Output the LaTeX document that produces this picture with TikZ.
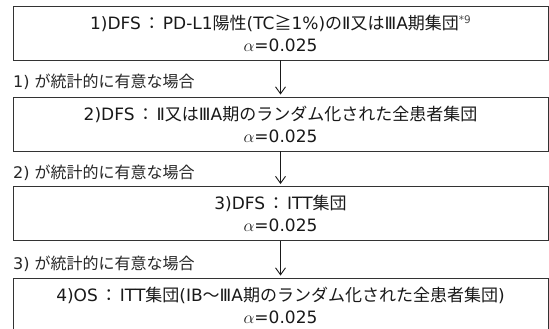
\documentclass[tikz,border=0pt]{standalone}
\usepackage{fontspec}
\setmainfont{DejaVu Sans}
\newfontfamily\cjfont{Noto Sans CJK JP}
\newcommand\J[1]{{\cjfont #1}}
\newcommand\Col{\hspace{2.5pt}\J{：}\hspace{2.5pt}}
\usetikzlibrary{arrows.meta}
\begin{document}
\begin{tikzpicture}[x=1pt,y=1pt,
  box/.style={draw=black!80, line width=0.9pt, minimum width=535pt, minimum height=54pt,
    align=center, inner sep=0pt, text=black!90, font=\fontsize{17}{22}\selectfont},
  lab/.style={anchor=base west, inner sep=0pt, text=black!85, font=\fontsize{16}{18}\selectfont},
  arr/.style={-{Straight Barb[length=7pt,width=10pt]}, line width=0.9pt, draw=black!90, shorten >=2pt}]
\useasboundingbox (0,0) rectangle (549,-329);
\clip (0,0) rectangle (549,-329);
\fill[white] (0,0) rectangle (549,-329);
\node[box] (b1) at (280.5,-33) {1)DFS\Col PD-L1\J{陽性}(TC\J{≧}1\%)\J{の}Ⅱ\J{又は}ⅢA\J{期集団}{\fontsize{10.5}{10.5}\selectfont\color{black!70}\raisebox{5.5pt}{*9}}\\$\alpha$=0.025};
\node[box] (b2) at (280.5,-124) {2)DFS\Col Ⅱ\J{又は}ⅢA\J{期のランダム化された全患者集団}\\$\alpha$=0.025};
\node[box] (b3) at (280.5,-213.5) {3)DFS\Col ITT\J{集団}\\$\alpha$=0.025};
\node[box] (b4) at (280.5,-305) {4)OS\Col ITT\J{集団}(IB\J{〜}ⅢA\J{期のランダム化された全患者集団})\\$\alpha$=0.025};
\node[lab] (l1) at (13,-88) {1) \J{が統計的に有意な場合}};
\node[lab] (l2) at (13,-178) {2) \J{が統計的に有意な場合}};
\node[lab] (l3) at (13,-269) {3) \J{が統計的に有意な場合}};
\draw[arr] (b1.south) -- (b2.north);
\draw[arr] (b2.south) -- (b3.north);
\draw[arr] (b3.south) -- (b4.north);
\end{tikzpicture}
\end{document}
